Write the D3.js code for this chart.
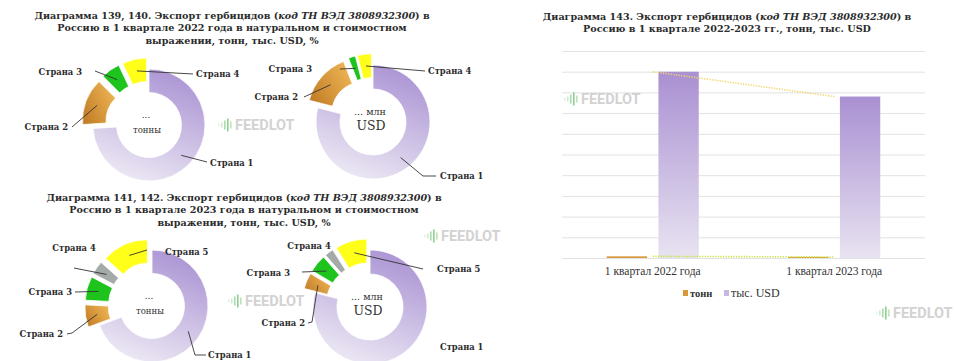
<!DOCTYPE html>
<html>
<head>
<meta charset="utf-8">
<script src="https://cdn.jsdelivr.net/npm/d3@7"></script>
<style>
  body { margin: 0; background: #fff; }
  svg { display: block; }
</style>
</head>
<body>
<svg id="chart" width="956" height="361"></svg>
<script>
// ---- Data ----
const countries4 = ["Страна 1", "Страна 2", "Страна 3", "Страна 4"];
const countries5 = ["Страна 1", "Страна 2", "Страна 3", "Страна 4", "Страна 5"];
const shareTons2022 = [74, 13.5, 5.5, 7];
const shareUsd2022 = [79, 15, 2, 4];
const shareTons2023 = [69.4, 6.4, 6.9, 3.9, 13.4];
const shareUsd2023 = [79, 4.5, 5, 2.5, 9];

const quarters = ["1 квартал 2022 года", "1 квартал 2023 года"];
const seriesNames = ["тонн", "тыс. USD"];
const valuesTons = [0.08, 0.05];
const valuesUsd = [9.0, 7.8];

const titles = {
  d2022: ["Диаграмма 139, 140. Экспорт гербицидов (", "код ТН ВЭД 3808932300", ") в",
          "Россию в 1 квартале 2022 года в натуральном и стоимостном",
          "выражении, тонн, тыс. USD, %"],
  d2023: ["Диаграмма 141, 142. Экспорт гербицидов (", "код ТН ВЭД 3808932300", ") в",
          "Россию в 1 квартале 2023 года в натуральном и стоимостном",
          "выражении, тонн, тыс. USD, %"],
  bars: ["Диаграмма 143. Экспорт гербицидов (", "код ТН ВЭД 3808932300", ") в",
         "Россию в 1 квартале 2022-2023 гг., тонн, тыс. USD"]
};

// ---- Setup ----
const svg = d3.select("#chart");
const defs = svg.append("defs");
const serif = "'DejaVu Serif', serif";

function linGrad(id, x1, y1, x2, y2, stops) {
  const g = defs.append("linearGradient").attr("id", id)
    .attr("x1", x1).attr("y1", y1).attr("x2", x2).attr("y2", y2);
  stops.forEach(([o, c]) => g.append("stop").attr("offset", o).attr("stop-color", c));
}
linGrad("gPurple", 0.75, 0, 0.35, 1, [[0, "#a992d3"], [1, "#ece8f4"]]);
linGrad("gOrange", 0, 0.8, 1, 0.2, [[0, "#c27d27"], [1, "#efb655"]]);
linGrad("gBar", 0, 0, 0, 1, [[0, "#a990d2"], [1, "#e8e3f1"]]);

const fill4 = ["url(#gPurple)", "url(#gOrange)", "#1ec31e", "#ffff1a"];
const fill5 = ["url(#gPurple)", "url(#gOrange)", "#1ec31e", "#a4aaa8", "#ffff1a"];

// ---- Titles ----
function title(lines, cx, y0, size) {
  const t = svg.append("g").attr("font-family", serif).attr("font-weight", "bold")
    .attr("font-size", size).attr("fill", "#2b2b2b").attr("text-anchor", "middle");
  const l1 = t.append("text").attr("x", cx).attr("y", y0);
  l1.append("tspan").text(lines[0]);
  l1.append("tspan").attr("font-style", "italic").text(lines[1]);
  l1.append("tspan").text(lines[2]);
  lines.slice(3).forEach((s, i) =>
    t.append("text").attr("x", cx).attr("y", y0 + 12.3 * (i + 1)).text(s));
}
title(titles.d2022, 232, 19, 9.6);
title(titles.d2023, 244, 201, 9.6);
title(titles.bars, 727, 20, 9.6);

// ---- Donuts ----
function donut(cfg) {
  const { cx, cy, R, values, names, fills, labels, center } = cfg;
  const r = R * 0.58;
  const explode = R * 0.2;
  const pie = d3.pie().sort(null).value(d => d)(values);
  const arc = d3.arc().innerRadius(r).outerRadius(R);
  const mid = d3.arc().innerRadius((R + r) / 2).outerRadius((R + r) / 2);
  const g = svg.append("g").attr("transform", `translate(${cx},${cy})`);

  const shift = (d, i) => {
    if (i === 0) return [0, 0];
    const a = (d.startAngle + d.endAngle) / 2;
    return [Math.sin(a) * explode, -Math.cos(a) * explode];
  };

  g.selectAll("path.slice").data(pie).join("path")
    .attr("class", "slice")
    .attr("d", arc)
    .attr("fill", (d, i) => fills[i])
    .attr("stroke", "#fff").attr("stroke-width", 0.8)
    .attr("transform", (d, i) => `translate(${shift(d, i)})`);

  // leader lines and labels
  pie.forEach((d, i) => {
    const L = labels[i];
    if (!L) return;
    const [sx, sy] = shift(d, i);
    const c = mid.centroid(d);
    if (L.pts) {
      const pts = [[c[0] + sx, c[1] + sy], ...L.pts];
      g.append("path").attr("d", d3.line()(pts))
        .attr("fill", "none").attr("stroke", "#333").attr("stroke-width", 0.9);
    }
    g.append("text").attr("x", L.t[0]).attr("y", L.t[1])
      .attr("dy", "0.35em").attr("text-anchor", L.a)
      .attr("font-family", serif).attr("font-weight", "bold")
      .attr("font-size", 8.4).attr("fill", "#2b2b2b")
      .text(names[i]);
  });

  const ct = g.append("g").attr("font-family", serif).attr("fill", "#333")
    .attr("text-anchor", "middle");
  ct.append("text").attr("x", -3).attr("y", -7).attr("font-size", center[1])
    .text(center[0]);
  ct.append("text").attr("x", -2).attr("y", 8).attr("font-size", center[3])
    .text(center[2]);
}

donut({
  cx: 149, cy: 125, R: 56, values: shareTons2022, names: countries4, fills: fill4,
  center: ["...", 9, "тонны", 8.5],
  labels: [
    { t: [61, 38], a: "start", pts: [[58, 37]] },
    { t: [-81, 2], a: "end", pts: [[-77, 2]] },
    { t: [-67, -53], a: "end", pts: [[-54, -54]] },
    { t: [47, -51], a: "start", pts: [[44, -51]] }
  ]
});
donut({
  cx: 373, cy: 122, R: 57, values: shareUsd2022, names: countries4, fills: fill4,
  center: ["... млн", 9.5, "USD", 12.5],
  labels: [
    { t: [67, 54], a: "start", pts: [[50, 54], [63, 54]] },
    { t: [-75, -25], a: "end", pts: [[-69, -25]] },
    { t: [-61, -53], a: "end", pts: [[-33, -53]] },
    { t: [55, -51], a: "start", pts: [[52, -51]] }
  ]
});
donut({
  cx: 152, cy: 306, R: 56, values: shareTons2023, names: countries5, fills: fill5,
  center: ["...", 9, "тонны", 8.5],
  labels: [
    { t: [56, 49], a: "start", pts: [[43, 49], [54, 49]] },
    { t: [-89, 28], a: "end", pts: [[-80, 27], [-85, 28]] },
    { t: [-80, -14], a: "end", pts: [[-77, -14]] },
    { t: [-78, -58], a: "middle", pts: [[-78, -38]] },
    { t: [13, -54], a: "start", pts: [[-5, -56]] }
  ]
});
donut({
  cx: 370, cy: 307, R: 57, values: shareUsd2023, names: countries5, fills: fill5,
  center: ["... млн", 9.5, "USD", 12.5],
  labels: [
    { t: [70, 40], a: "start" },
    { t: [-65, 16], a: "end", pts: [[-58, 15], [-62, 16]] },
    { t: [-80, -34], a: "end", pts: [[-68, -35]] },
    { t: [-61, -61], a: "middle" },
    { t: [67, -38], a: "start", pts: [[53, -38]] }
  ]
});

// ---- Bar chart ----
const x0 = d3.scaleBand().domain(quarters).range([562, 925]);
const x1 = d3.scaleBand().domain(seriesNames)
  .range([x0.bandwidth() / 2 - 46, x0.bandwidth() / 2 + 46]).paddingInner(0.22);
const y = d3.scaleLinear().domain([0, 10]).range([258, 51]);

const grid = svg.append("g");
grid.selectAll("line").data(y.ticks(10)).join("line")
  .attr("x1", 562).attr("x2", 925)
  .attr("y1", d => y(d) + 0.5).attr("y2", d => y(d) + 0.5)
  .attr("stroke", "#e2e2e2").attr("stroke-width", 1);

const seriesData = [valuesTons, valuesUsd];
const barFill = ["#d8993a", "url(#gBar)"];
const bars = svg.append("g");
quarters.forEach((q, qi) => {
  seriesNames.forEach((s, si) => {
    const v = seriesData[si][qi];
    bars.append("rect")
      .attr("x", x0(q) + x1(s)).attr("width", x1.bandwidth())
      .attr("y", y(v)).attr("height", y(0) - y(v))
      .attr("fill", barFill[si]);
  });
});

// trend lines between category centres
const cxq = q => x0(q) + x0.bandwidth() / 2;
const trend = d3.line().x((d, i) => cxq(quarters[i])).y(d => y(d));
svg.append("path").attr("d", trend(valuesUsd))
  .attr("fill", "none").attr("stroke", "#f3d56c").attr("stroke-width", 1.6)
  .attr("stroke-dasharray", "1.2,1.4");
svg.append("path").attr("d", trend(valuesTons))
  .attr("fill", "none").attr("stroke", "#c9e23a").attr("stroke-width", 1.6)
  .attr("stroke-dasharray", "1.2,1.4");

// category labels
svg.append("g").selectAll("text").data(quarters).join("text")
  .attr("x", d => cxq(d)).attr("y", 275).attr("text-anchor", "middle")
  .attr("font-family", "'Liberation Serif', serif").attr("font-size", 11.5)
  .attr("fill", "#333").text(d => d);

// legend
const legend = svg.append("g").attr("font-family", "'Liberation Serif', serif").attr("fill", "#333");
const legendX = [683, 724];
const legendColor = ["#d8993a", "#c6b8e2"];
seriesNames.forEach((s, i) => {
  legend.append("rect").attr("x", legendX[i]).attr("y", 290).attr("width", 5).attr("height", 6)
    .attr("fill", legendColor[i]);
  legend.append("text").attr("x", legendX[i] + 7).attr("y", 297)
    .attr("font-size", i === 0 ? 10.5 : 12).attr("font-weight", i === 0 ? "bold" : "normal")
    .text(s);
});

// ---- Watermarks ----
function watermark(x, yy) {
  const g = svg.append("g").attr("transform", `translate(${x},${yy})`).attr("opacity", 0.75);
  const hs = [3, 5, 9, 13, 7];
  const cs = ["#d9efd9", "#bfe5bf", "#8fd18f", "#6cc06c", "#a6dba6"];
  hs.forEach((h, i) =>
    g.append("rect").attr("x", i * 3).attr("y", -h / 2).attr("width", 1.6).attr("height", h)
      .attr("fill", cs[i]));
  g.append("text").attr("x", 17).attr("y", 0).attr("dy", "0.36em")
    .attr("font-family", "Roboto, sans-serif").attr("font-weight", "bold")
    .attr("font-size", 14.5).attr("fill", "#c4c4c4").text("FEEDLOT");
}
watermark(218, 125);
watermark(424, 236);
watermark(228, 301);
watermark(564, 99);
watermark(876, 313);
</script>
</body>
</html>
